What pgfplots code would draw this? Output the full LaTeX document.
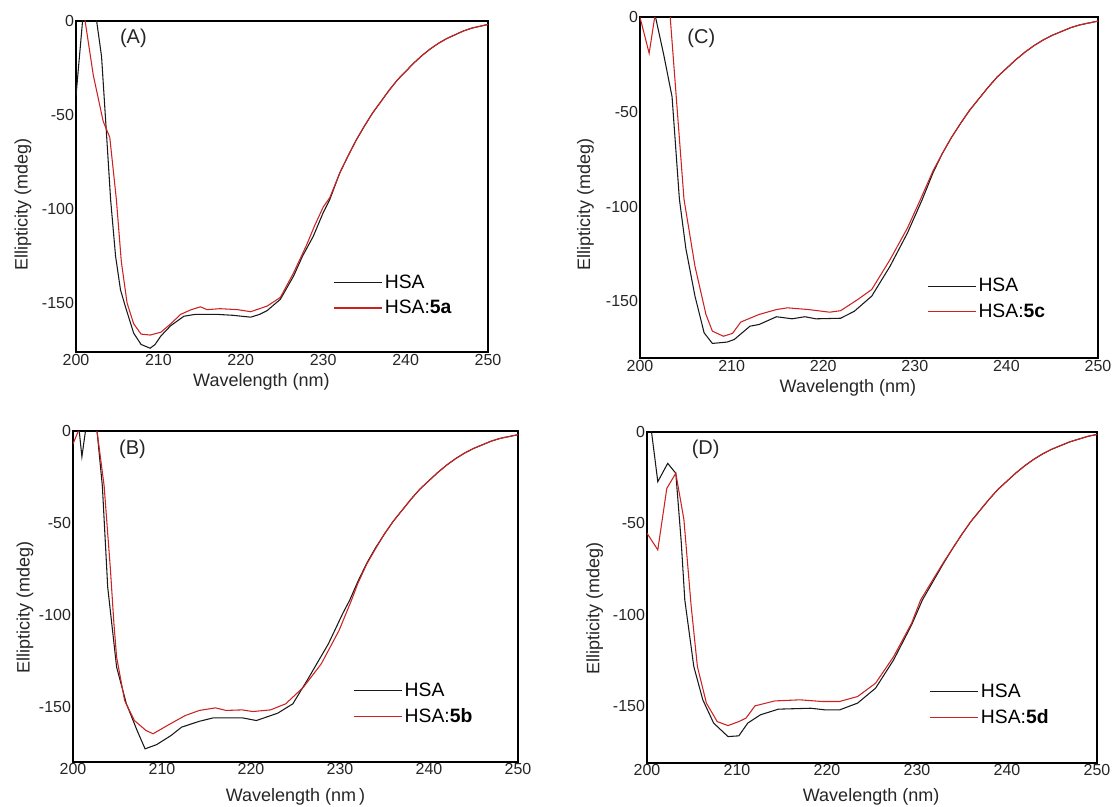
\documentclass[border=0pt]{standalone}
\usepackage{fontspec}
\setmainfont{Liberation Sans}
\usepackage{pgfplots}
\pgfplotsset{compat=1.18}
\definecolor{cdred}{RGB}{204,34,34}
\definecolor{cdblack}{RGB}{25,25,25}
\pgfplotsset{
  cdstyle/.style={
    scale only axis,
    axis line style={line width=1.5pt},
    xmin=200, xmax=250, ymax=0,
    xtick={200,210,220,230,240,250},
    xticklabels={200,210,220,230,240,250},
    ytick={-150,-100,-50,0},
    yticklabels={-150,-100,-50,0},
    major tick length=0pt,
    tick label style={font=\fontsize{12}{14}\selectfont, text=black!85},
    yticklabel style={xshift=2pt},
    xticklabel style={yshift=2pt},
    label style={font=\fontsize{13.5}{16}\selectfont, text=black!85},
    xlabel={Wavelength (nm)},
    ylabel={Ellipticity (mdeg)},
    clip=true,
    legend cell align=left,
    legend image code/.code={\path (0pt,0pt) -- (36pt,0pt);\draw[#1] (0pt,0pt) -- (32pt,0pt);},
    legend style={draw=none, fill=none, font=\fontsize{14.5}{17}\selectfont,
      anchor=north west, row sep=4.5pt, inner sep=0pt, nodes={inner sep=1.5pt}},
    blk/.style={cdblack, line width=0.8pt},
    rd/.style={cdred, line width=0.8pt},
  }
}
\begin{document}
\begin{tikzpicture}
\path[use as bounding box] (0,0) rectangle (838.5pt,605.25pt);

% ---------------- (A) ----------------
\begin{axis}[cdstyle, at={(57pt,341.25pt)}, anchor=south west,
  width=309pt, height=248.5pt, ymin=-176,
  legend style={at={(axis description cs:0.625,0.24)}},
  xlabel style={at={(axis description cs:0.45,0)}, anchor=center, yshift=-22.3pt},
  ylabel style={at={(axis description cs:-0.129,0.445)}, anchor=center}]
\addplot[blk] coordinates {
(200,-40) (200.8,0) (201.5,15) (202.5,0) (203.1,-19) (203.7,-60) (204.2,-95)
(204.8,-125) (205.4,-143) (206,-152) (207,-166) (207.9,-172) (209,-174)
(209.6,-172) (210.3,-167.5) (211.5,-162) (213.1,-157) (214.5,-156) (217.1,-156)
(219,-156.5) (221.2,-157.5) (222.3,-156) (223.2,-154) (224.8,-148) (226.4,-135.7)
(227.5,-125) (228.8,-114.5) (230,-102) (230.8,-95) (232,-81) (233,-72) (234,-63.5)
(235,-56) (236,-49) (237,-43) (238,-37) (239,-31.5) (240,-27) (241,-22.5)
(242,-18.5) (243,-15) (244,-12) (245,-9.5) (246,-7.5) (247,-5.5) (248,-4)
(249,-3) (250,-2)};
\addlegendentry{HSA}
\addplot[rd] coordinates {
(200,15) (201.1,0) (202.1,-29) (203.3,-53.5) (204.1,-62) (204.9,-95)
(205.5,-128) (206.2,-150) (207,-161) (207.9,-166.5) (209,-167) (210.3,-165.5)
(211.5,-161) (212.7,-156) (214,-153.5) (215.1,-152) (215.9,-153.5) (217.5,-153)
(219.6,-153.5) (221.2,-154.6) (223.2,-151.6) (224.8,-147) (226.4,-134) (228,-119)
(229,-108.5) (230,-99) (230.8,-94) (232,-81) (233,-72) (234,-63.5)
(235,-56) (236,-49) (237,-43) (238,-37) (239,-31.5) (240,-27) (241,-22.5)
(242,-18.5) (243,-15) (244,-12) (245,-9.5) (246,-7.5) (247,-5.5) (248,-4)
(249,-3) (250,-2)};
\addlegendentry{HSA:\textbf{5a}}
\node[font=\fontsize{15}{18}\selectfont, text=black!85] at (rel axis cs:0,1) [xshift=43pt, yshift=-13.5pt] {(A)};
\end{axis}

% ---------------- (C) ----------------
\begin{axis}[cdstyle, at={(480pt,336.75pt)}, anchor=south west,
  width=343.5pt, height=255.5pt, ymin=-180,
  legend style={at={(axis description cs:0.627,0.24)}},
  xlabel style={at={(axis description cs:0.454,0)}, anchor=center, yshift=-22.5pt},
  ylabel style={at={(axis description cs:-0.119,0.45)}, anchor=center}]
\addplot[blk] coordinates {
(200,15) (201,15) (201.7,0) (202.6,-20) (203.5,-42) (204.3,-96) (205,-122)
(206,-147.3) (207,-166.7) (207.9,-172.3) (209.5,-171.6) (210.3,-170.2)
(212,-163.2) (213,-162.3) (214.9,-158.2) (216.6,-159.3) (218,-158.2)
(219.2,-159.3) (221.9,-159) (223.4,-155.3) (225.3,-147.3) (227.3,-131.5)
(229.2,-113.9) (230.8,-96.4) (232,-82) (233,-72) (234,-63.5)
(235,-56) (236,-49) (237,-43) (238,-37) (239,-31.5) (240,-27) (241,-22.5)
(242,-18.5) (243,-15) (244,-12) (245,-9.5) (246,-7.5) (247,-5.5) (248,-4)
(249,-3) (250,-2)};
\addlegendentry{HSA}
\addplot[rd] coordinates {
(200,0) (201,-19) (201.6,0) (202.4,10) (203.3,0) (204.8,-96) (206,-131.5)
(207.2,-157) (207.9,-165.8) (209.1,-168.5) (210.1,-167) (211,-161) (213,-157)
(214.9,-154.4) (216.1,-153.5) (218.4,-154.4) (220.7,-155.8) (221.9,-155)
(223.8,-149) (225.3,-143.8) (227.3,-128) (229.2,-111.3) (230.6,-96.4)
(232,-81) (233,-72) (234,-63.5)
(235,-56) (236,-49) (237,-43) (238,-37) (239,-31.5) (240,-27) (241,-22.5)
(242,-18.5) (243,-15) (244,-12) (245,-9.5) (246,-7.5) (247,-5.5) (248,-4)
(249,-3) (250,-2)};
\addlegendentry{HSA:\textbf{5c}}
\node[font=\fontsize{15}{18}\selectfont, text=black!85] at (rel axis cs:0,1) [xshift=46pt, yshift=-15.5pt] {(C)};
\end{axis}

% ---------------- (B) ----------------
\begin{axis}[cdstyle, at={(54.75pt,33.98pt)}, anchor=south west,
  width=333.75pt, height=248pt, ymin=-180,
  legend style={at={(axis description cs:0.63,0.246)}},
  xlabel={Wavelength (nm\,)},
  xlabel style={at={(axis description cs:0.5,0)}, anchor=center, yshift=-26pt},
  ylabel style={at={(axis description cs:-0.108,0.466)}, anchor=center}]
\addplot[blk] coordinates {
(200,8) (200.7,0) (201,-14) (201.4,0) (202,8) (202.7,0) (203.3,-30) (203.9,-85)
(204.9,-128.5) (206,-148.5) (207.2,-163) (208.1,-173) (209.4,-170.7) (211,-165.8)
(212.2,-161.2) (214.2,-158) (215.8,-156.1) (219,-156.1) (220.6,-157.6) (223,-153.6)
(224.7,-148.5) (226.3,-135.8) (228.7,-115.8) (230.3,-99.4) (231.1,-92)
(232,-82) (233,-72) (234,-63.5)
(235,-56) (236,-49) (237,-43) (238,-37) (239,-31.5) (240,-27) (241,-22.5)
(242,-18.5) (243,-15) (244,-12) (245,-9.5) (246,-7.5) (247,-5.5) (248,-4)
(249,-3) (250,-2)};
\addlegendentry{HSA}
\addplot[rd] coordinates {
(200,-7) (200.6,0) (201.5,10) (202.7,0) (203.5,-30) (204.2,-75) (204.6,-105)
(204.9,-123) (205.8,-146.7) (206.9,-157.6) (208.2,-163) (209,-164.8) (210.6,-160.3)
(212.6,-154.9) (214.2,-152.1) (216,-150.7) (217.2,-152.1) (219,-151.8) (220.2,-152.7)
(222.2,-151.8) (223.9,-148.5) (225.9,-139.4) (227.9,-126.7) (229.9,-108.5) (231.3,-92)
(232,-83) (233,-72.5) (234,-64)
(235,-56) (236,-49) (237,-43) (238,-37) (239,-31.5) (240,-27) (241,-22.5)
(242,-18.5) (243,-15) (244,-12) (245,-9.5) (246,-7.5) (247,-5.5) (248,-4)
(249,-3) (250,-2)};
\addlegendentry{HSA:\textbf{5b}}
\node[font=\fontsize{15}{18}\selectfont, text=black!85] at (rel axis cs:0,1) [xshift=44.6pt, yshift=-14pt] {(B)};
\end{axis}

% ---------------- (D) ----------------
\begin{axis}[cdstyle, at={(485.25pt,33.2pt)}, anchor=south west,
  width=337.5pt, height=248.25pt, ymin=-181,
  legend style={at={(axis description cs:0.628,0.246)}},
  xlabel style={at={(axis description cs:0.498,0)}, anchor=center, yshift=-25.5pt},
  ylabel style={at={(axis description cs:-0.116,0.466)}, anchor=center}]
\addplot[blk] coordinates {
(200,3) (200.5,0) (201.2,-27.3) (202.3,-17.3) (203.2,-22.7) (203.8,-60) (204.2,-92)
(205.2,-128.4) (206.2,-146.6) (207.4,-159.3) (209,-166.7) (210.2,-166.3) (211.2,-159.3)
(212.6,-154.8) (214.6,-151.7) (218.2,-151.2) (219.8,-152.1) (221.4,-152.1) (223.4,-148.4)
(225.4,-140.2) (227.4,-124.8) (229.4,-105.6) (230.6,-92)
(232,-80) (233,-71.5) (234,-63.5)
(235,-56) (236,-49) (237,-43) (238,-37) (239,-31.5) (240,-27) (241,-22.5)
(242,-18.5) (243,-15) (244,-12) (245,-9.5) (246,-7.5) (247,-5.5) (248,-4)
(249,-2.5) (250,-1.5)};
\addlegendentry{HSA}
\addplot[rd] coordinates {
(200,-55.5) (201.2,-64.6) (202.2,-31) (203.2,-22.7) (204.1,-48) (204.9,-95)
(205.6,-128.4) (206.6,-148.4) (207.8,-158.5) (209,-160.7) (210.2,-158.5) (211,-156.6)
(212,-149.9) (214.2,-147.2) (217,-146.6) (219.4,-147.5) (221.4,-147.5) (223.4,-144.8)
(225.4,-137.5) (227.4,-123) (229.4,-104.7) (230.4,-92)
(232,-79) (233,-71) (234,-63.5)
(235,-56) (236,-49) (237,-43) (238,-37) (239,-31.5) (240,-27) (241,-22.5)
(242,-18.5) (243,-15) (244,-12) (245,-9.5) (246,-7.5) (247,-5.5) (248,-4)
(249,-2.5) (250,-1.5)};
\addlegendentry{HSA:\textbf{5d}}
\node[font=\fontsize{15}{18}\selectfont, text=black!85] at (rel axis cs:0,1) [xshift=44pt, yshift=-13.5pt] {(D)};
\end{axis}
\end{tikzpicture}
\end{document}
